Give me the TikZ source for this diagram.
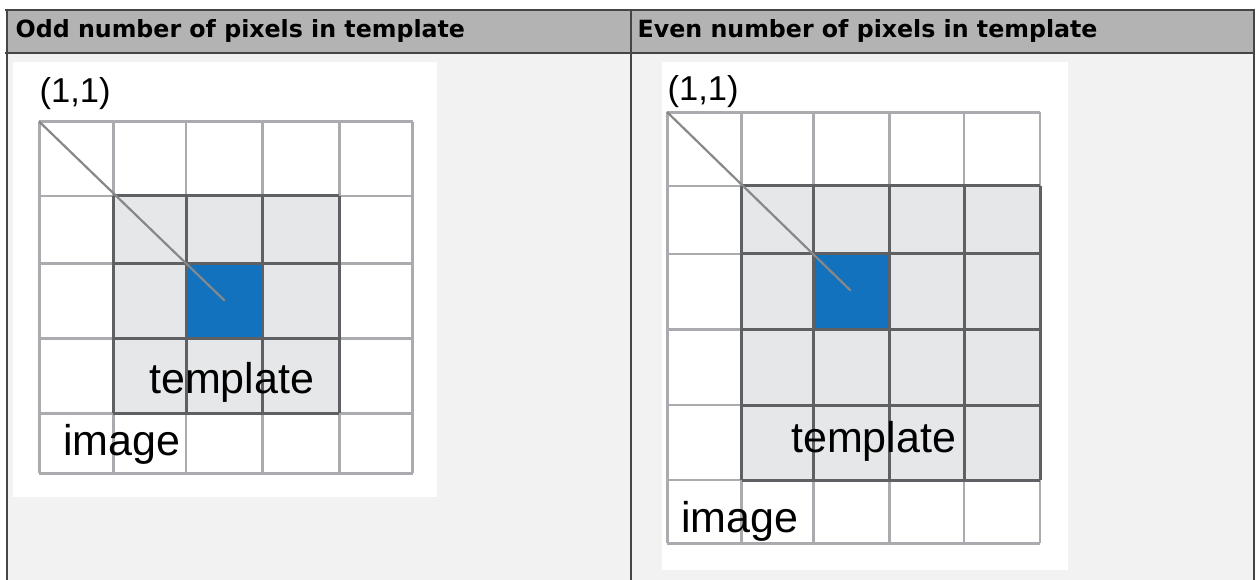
\documentclass[tikz,border=0pt]{standalone}
\usepackage{fontspec}
\setmainfont{Liberation Sans}
\newfontfamily\headfont{DejaVu Sans}
\definecolor{hdrgray}{HTML}{B3B3B3}
\definecolor{bodybg}{HTML}{F2F2F2}
\definecolor{rule}{HTML}{454545}
\definecolor{gridc}{HTML}{A9ABAE}
\definecolor{tplc}{HTML}{5F6063}
\definecolor{tplfill}{HTML}{E6E7E8}
\definecolor{pixblue}{HTML}{1272BD}
\definecolor{diagc}{HTML}{888888}
\tikzset{
  tablerule/.style={draw=rule,line width=2pt},
  gridline/.style={draw=gridc,line width=2.6pt},
  tplline/.style={draw=tplc,line width=3pt},
  diagline/.style={draw=diagc,line width=2.2pt,line cap=round},
  headtext/.style={anchor=base west,inner sep=0pt,font=\headfont\bfseries\fontsize{23.7}{28}\selectfont},
  lbltext/.style={anchor=base west,inner sep=0pt,font=\fontsize{43}{50}\selectfont},
  coordtext/.style={anchor=base west,inner sep=0pt,font=\fontsize{34.5}{40}\selectfont},
}
\begin{document}
\begin{tikzpicture}[x=1pt,y=-1pt]
\useasboundingbox (0,0) rectangle (1256,580);
% table backgrounds
\fill[white] (0,0) rectangle (1256,580);
\fill[hdrgray] (6,10) rectangle (1254,53);
\fill[bodybg] (6,53) rectangle (1254,580);
% table rules
\draw[tablerule] (5,10) -- (1255,10);
\draw[tablerule] (5,53) -- (1255,53);
\draw[tablerule] (6.5,9) -- (6.5,580);
\draw[tablerule] (1253.5,9) -- (1253.5,580);
\draw[tablerule] (631,9) -- (631,580);
\node[headtext] (h1) at (15.5,37.3) {Odd number of pixels in template};
\node[headtext] (h2) at (637.5,37.3) {Even number of pixels in template};
% ---------- left panel ----------
\fill[white] (12.7,62) rectangle (437,497);
\foreach \x in {39.3,113.3,186,262.7,339.3,412.7}
  \draw[gridline] (\x,121.7) -- (\x,473.3);
\foreach \y in {121.7,196,263.3,338.3,413.3,473.3}
  \draw[gridline] (39.3,\y) -- (412.7,\y);
\fill[tplfill] (113.3,196) rectangle (339.3,413.3);
\fill[pixblue] (186,263.3) rectangle (262.7,338.3);
\foreach \x in {113.3,186,262.7,339.3}
  \draw[tplline] (\x,196) -- (\x,413.3);
\foreach \y in {196,263.3,338.3,413.3}
  \draw[tplline] (113.3,\y) -- (339.3,\y);
\coordinate (L0) at (39.3,121.7);
\coordinate (Lc) at (224,300);
\draw[diagline] (L0) -- (Lc);
\node[coordtext] (Lorig) at (39.5,102.5) {(1,1)};
\node[lbltext] (Ltpl) at (149,393) {template};
\node[lbltext] (Limg) at (63,455) {image};
% ---------- right panel ----------
\fill[white] (662,62) rectangle (1068,570);
\foreach \x in {667.3,741.7,813.3,889.3,964,1040}
  \draw[gridline] (\x,112.3) -- (\x,543.3);
\foreach \y in {112.3,186,254,329.3,405,480,543.3}
  \draw[gridline] (667.3,\y) -- (1040,\y);
\fill[tplfill] (741.7,186) rectangle (1040,480);
\fill[pixblue] (813.3,254) rectangle (889.3,329.3);
\foreach \x in {741.7,813.3,889.3,964,1040}
  \draw[tplline] (\x,186) -- (\x,480);
\foreach \y in {186,254,329.3,405,480}
  \draw[tplline] (741.7,\y) -- (1040,\y);
\coordinate (R0) at (667.3,112.3);
\coordinate (Rc) at (850,290);
\draw[diagline] (R0) -- (Rc);
\node[coordtext] (Rorig) at (667.5,101) {(1,1)};
\node[lbltext] (Rtpl) at (791,452) {template};
\node[lbltext] (Rimg) at (681,532) {image};
\end{tikzpicture}
\end{document}
